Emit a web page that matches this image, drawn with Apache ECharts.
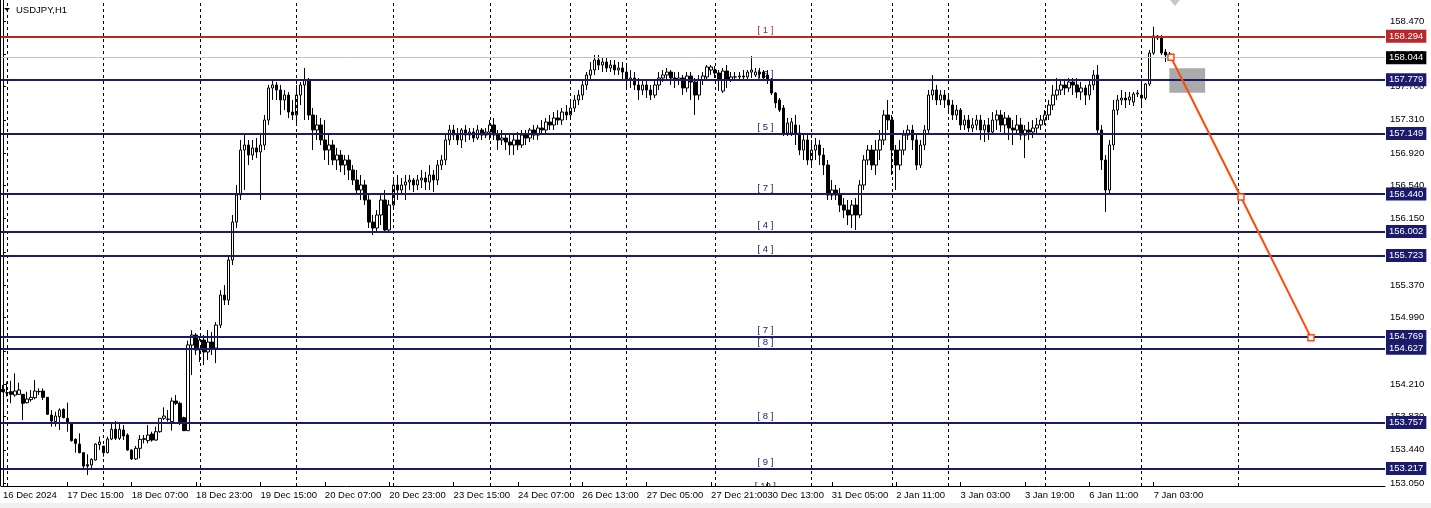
<!DOCTYPE html>
<html><head><meta charset="utf-8">
<script src="https://cdn.jsdelivr.net/npm/echarts@6/dist/echarts.min.js"></script>
<style>html,body{margin:0;padding:0;background:#fff;overflow:hidden}#c{width:1431px;height:508px}</style>
</head><body><div id="c"></div>
<script>
// ---- data (H1 bars, index 0 = 16 Dec 23:00) ----
const open=[154.149,154.110,154.121,154.082,154.090,154.090,153.992,154.028,154.051,154.121,154.129,154.055,153.848,153.770,153.828,153.914,153.809,153.758,153.562,153.507,153.406,153.265,153.261,153.320,153.500,153.484,153.406,153.566,153.680,153.574,153.672,153.613,153.437,153.332,153.457,153.562,153.547,153.625,153.554,153.652,153.809,153.800,153.770,154.012,153.985,153.816,153.664,
154.668,154.786,154.610,154.727,154.587,154.704,154.633,154.903,155.255,155.196,
155.666,156.111,156.428,156.956,157.015,156.897,156.980,156.933,157.015,157.308,
157.684,157.719,157.660,157.543,157.601,157.402,157.367,157.601,157.719,157.777,
157.367,157.191,157.250,157.074,156.956,157.015,156.839,156.897,156.780,156.839,
156.722,156.604,156.487,156.546,156.370,156.111,156.041,156.194,156.370,156.018,
156.311,156.546,156.487,156.546,156.581,156.604,156.546,156.604,156.628,156.581,
156.663,156.604,156.780,156.839,157.074,157.191,157.132,157.074,157.191,157.132,
157.167,157.097,157.191,157.132,157.167,157.250,157.132,157.074,157.097,157.050,
157.015,157.074,157.015,157.132,157.097,157.191,157.132,157.214,157.191,157.285,
157.250,157.332,157.308,157.402,157.367,157.449,157.543,157.601,157.719,157.836,
157.895,158.012,157.953,157.989,157.918,157.953,157.895,157.918,157.871,157.777,
157.801,157.719,157.660,157.719,157.660,157.601,157.719,157.801,157.836,157.871,
157.801,157.777,157.801,157.684,157.824,157.754,157.601,157.777,157.813,157.895,
157.895,157.860,157.648,157.883,157.777,157.813,157.813,157.824,157.813,157.871,
157.836,157.871,157.871,157.836,157.777,157.625,157.543,157.449,157.156,157.156,
157.250,157.156,156.956,157.074,156.839,156.956,157.015,156.897,156.780,156.428,
156.487,156.428,156.311,156.252,156.194,156.311,156.194,156.546,156.839,156.956,
156.780,156.956,157.074,157.367,157.308,156.956,156.780,156.956,157.132,157.191,
157.074,156.780,157.015,157.191,157.601,157.660,157.543,157.601,157.543,157.484,
157.367,157.425,157.250,157.308,157.214,157.250,157.308,157.191,157.250,157.167,
157.308,157.367,157.250,157.332,157.214,157.191,157.250,157.132,157.191,157.167,
157.214,157.250,157.308,157.367,157.484,157.601,157.660,157.719,157.684,157.754,
157.719,157.637,157.684,157.601,157.719,157.836,157.191,156.839,156.487,157.015,
157.425,157.543,157.566,157.543,157.519,157.613,157.601,157.566,157.731,158.094,
158.294,158.270,158.106,158.082];
const close=[154.121,154.109,154.090,154.129,154.141,153.985,154.035,154.055,154.129,154.125,154.055,153.856,153.777,153.836,153.906,153.816,153.758,153.547,153.515,153.406,153.249,153.249,153.328,153.507,153.531,153.406,153.566,153.680,153.574,153.680,153.601,153.437,153.332,153.457,153.562,153.570,153.613,153.554,153.652,153.809,153.836,153.797,154.012,153.985,153.770,153.664,154.670,
154.786,154.610,154.727,154.587,154.704,154.633,154.903,155.255,155.196,155.666,
156.111,156.428,156.956,157.015,156.897,156.980,156.933,157.015,157.308,157.684,
157.719,157.660,157.543,157.601,157.402,157.367,157.601,157.719,157.777,157.367,
157.191,157.250,157.074,156.956,157.015,156.839,156.897,156.780,156.839,156.722,
156.604,156.487,156.546,156.370,156.111,156.041,156.194,156.370,156.018,156.311,
156.546,156.487,156.546,156.581,156.604,156.546,156.604,156.628,156.581,156.663,
156.604,156.780,156.839,157.074,157.191,157.132,157.074,157.191,157.132,157.167,
157.097,157.191,157.132,157.167,157.250,157.132,157.074,157.097,157.050,157.015,
157.074,157.015,157.132,157.097,157.191,157.132,157.214,157.191,157.285,157.250,
157.332,157.308,157.402,157.367,157.449,157.543,157.601,157.719,157.836,157.895,
158.012,157.953,157.989,157.918,157.953,157.895,157.918,157.871,157.777,157.801,
157.719,157.660,157.719,157.660,157.601,157.719,157.801,157.836,157.871,157.801,
157.777,157.801,157.684,157.824,157.754,157.601,157.777,157.824,157.930,157.930,
157.860,157.777,157.883,157.777,157.813,157.815,157.824,157.813,157.871,157.895,
157.871,157.848,157.801,157.777,157.625,157.508,157.425,157.156,157.273,157.285,
157.156,156.956,157.074,156.839,156.956,157.015,156.897,156.780,156.428,156.487,
156.428,156.311,156.252,156.194,156.311,156.194,156.546,156.839,156.956,156.780,
156.956,157.074,157.367,157.308,156.956,156.780,156.956,157.132,157.191,157.074,
156.780,157.015,157.191,157.601,157.660,157.543,157.601,157.543,157.484,157.367,
157.425,157.250,157.308,157.214,157.250,157.308,157.191,157.250,157.167,157.308,
157.367,157.250,157.332,157.214,157.191,157.250,157.132,157.191,157.167,157.214,
157.250,157.308,157.367,157.484,157.601,157.660,157.719,157.684,157.754,157.719,
157.637,157.684,157.601,157.719,157.836,157.191,156.839,156.487,157.015,157.425,
157.543,157.566,157.543,157.578,157.613,157.625,157.566,157.731,158.094,158.294,
158.270,158.094,158.071,158.044];
const high=[154.200,154.239,154.251,154.337,154.227,154.090,154.121,154.141,154.258,154.161,154.161,154.058,153.906,153.887,153.926,153.926,153.992,153.760,153.574,153.633,153.406,153.386,153.339,153.515,153.594,153.484,153.594,153.750,153.777,153.750,153.730,153.633,153.445,153.484,153.613,153.613,153.730,153.652,153.711,153.812,153.938,153.906,154.051,154.082,154.004,153.828,154.720,
154.844,154.809,154.762,154.786,154.844,154.821,154.938,155.313,155.372,155.724,
156.194,156.546,157.074,157.132,157.074,157.074,157.097,157.132,157.367,157.719,
157.777,157.754,157.719,157.660,157.637,157.543,157.719,157.754,157.918,157.801,
157.449,157.367,157.332,157.308,157.132,157.074,156.980,156.956,156.897,156.897,
156.780,156.722,156.663,156.604,156.428,156.194,156.252,156.428,156.487,156.370,
156.604,156.663,156.628,156.663,156.663,156.628,156.663,156.722,156.698,156.780,
156.722,156.839,156.897,157.132,157.250,157.250,157.214,157.214,157.250,157.214,
157.214,157.250,157.214,157.214,157.308,157.332,157.191,157.191,157.132,157.132,
157.132,157.167,157.191,157.191,157.214,157.250,157.250,157.308,157.332,157.367,
157.402,157.425,157.449,157.484,157.543,157.601,157.660,157.777,157.871,157.989,
158.071,158.071,158.047,158.036,158.012,158.012,157.989,157.989,157.953,157.895,
157.871,157.801,157.777,157.777,157.719,157.777,157.871,157.895,157.918,157.895,
157.871,157.871,157.836,157.871,157.871,157.801,157.836,157.871,157.953,157.953,
157.942,157.895,157.918,157.953,157.871,157.871,157.871,157.895,157.895,158.059,
157.918,157.918,157.895,157.895,157.801,157.637,157.566,157.484,157.332,157.332,
157.367,157.250,157.132,157.132,157.074,157.097,157.074,156.980,156.839,156.604,
156.546,156.510,156.393,156.370,156.370,156.393,156.604,156.897,157.015,157.015,
157.074,157.191,157.425,157.543,157.367,157.015,157.074,157.191,157.250,157.250,
157.132,157.074,157.250,157.660,157.836,157.719,157.660,157.660,157.601,157.543,
157.484,157.449,157.367,157.367,157.332,157.367,157.367,157.308,157.332,157.402,
157.425,157.425,157.402,157.367,157.308,157.367,157.332,157.250,157.285,157.308,
157.332,157.367,157.425,157.543,157.719,157.801,157.777,157.777,157.801,157.801,
157.801,157.754,157.719,157.777,157.895,157.953,157.250,156.897,157.074,157.543,
157.601,157.660,157.637,157.637,157.637,157.660,157.742,157.742,158.130,158.403,
158.305,158.305,158.141,158.106];
const low=[154.114,154.063,153.985,154.063,154.082,153.789,153.985,154.004,154.032,154.082,154.024,153.848,153.711,153.711,153.672,153.809,153.652,153.535,153.406,153.398,153.222,153.144,153.222,153.312,153.437,153.359,153.398,153.554,153.554,153.554,153.554,153.429,153.320,153.320,153.339,153.515,153.515,153.535,153.547,153.640,153.789,153.770,153.664,153.965,153.730,153.664,153.664,
154.316,154.551,154.469,154.434,154.493,154.551,154.457,154.868,155.138,155.138,
155.607,156.041,156.370,156.487,156.780,156.839,156.862,156.370,156.956,157.250,
157.543,157.543,157.367,157.425,157.332,157.308,157.250,157.484,157.308,157.308,
156.956,157.074,157.015,156.839,156.780,156.780,156.722,156.698,156.663,156.604,
156.546,156.428,156.370,156.311,156.041,155.959,155.994,156.076,155.982,155.982,
156.252,156.370,156.428,156.370,156.487,156.463,156.487,156.510,156.487,156.487,
156.463,156.546,156.722,156.780,157.015,157.074,157.015,156.980,157.050,157.074,
157.050,157.074,157.074,157.097,157.074,157.074,156.956,157.015,156.956,156.897,
156.897,156.956,156.980,157.015,157.050,157.074,157.074,157.132,157.132,157.191,
157.191,157.250,157.250,157.308,157.308,157.402,157.484,157.543,157.660,157.777,
157.836,157.895,157.871,157.871,157.871,157.836,157.836,157.777,157.660,157.684,
157.660,157.543,157.601,157.566,157.543,157.566,157.660,157.754,157.777,157.719,
157.684,157.719,157.601,157.637,157.543,157.367,157.543,157.719,157.777,157.836,
157.801,157.648,157.625,157.684,157.754,157.777,157.777,157.777,157.777,157.801,
157.813,157.801,157.777,157.731,157.601,157.449,157.402,157.120,157.120,157.120,
157.015,156.897,156.839,156.780,156.780,156.839,156.780,156.663,156.370,156.370,
156.370,156.229,156.158,156.076,156.041,156.018,156.158,156.487,156.780,156.722,
156.663,156.839,157.015,157.191,156.663,156.487,156.722,156.897,157.074,156.956,
156.722,156.745,156.956,157.132,157.543,157.484,157.484,157.449,157.402,157.308,
157.308,157.191,157.191,157.167,157.167,157.191,157.074,157.050,157.074,157.132,
157.191,157.167,157.132,157.074,157.015,157.132,157.074,156.862,157.074,157.097,
157.132,157.191,157.250,157.308,157.425,157.543,157.601,157.601,157.637,157.601,
157.566,157.543,157.484,157.543,157.660,157.132,156.722,156.229,156.428,156.956,
157.367,157.484,157.449,157.484,157.472,157.578,157.461,157.543,157.707,158.071,
158.247,158.071,157.989,158.012];

const tickIdx=[0,16,32,48,64,80,96,112,128,144,160,176,190,206,222,238,254,270,286];
const tickText=['16 Dec 2024','17 Dec 15:00','18 Dec 07:00','18 Dec 23:00','19 Dec 15:00','20 Dec 07:00','20 Dec 23:00','23 Dec 15:00','24 Dec 07:00','26 Dec 13:00','27 Dec 05:00','27 Dec 21:00','30 Dec 13:00','31 Dec 05:00','2 Jan 11:00','3 Jan 03:00','3 Jan 19:00','6 Jan 11:00','7 Jan 03:00'];
const separatorIdx=[1,25,49,73,97,121,141,155,177,201,221,235,259,283,307];
const yTicks=[153.050,153.440,153.830,154.210,154.600,154.990,155.370,155.760,156.150,156.540,156.920,157.310,157.700,158.080,158.470];

const levelPrices=[158.294,157.779,157.149,156.440,156.002,155.723,154.769,154.627,153.757,153.217];
const bidPrice=158.044;
const tagPrices=[158.294,157.779,157.149,156.440,156.002,155.723,154.769,154.627,153.757,153.217,152.940];
const tagTexts=['[ 1 ]','[ 6 ]','[ 5 ]','[ 7 ]','[ 4 ]','[ 4 ]','[ 7 ]','[ 8 ]','[ 8 ]','[ 9 ]','[ 10 ]'];
const tagIdx=189.5;
const projX=[290.3,307.7,325.1];
const projY=[158.044,156.405,154.755];
const boxX=[289.9,298.8];
const boxY=[157.915,157.629];

// ---- styles ----
const SLOTS=344;
const NAVY='#1b1b6b', RED='#b8282a', ORANGE='#ff4a0a';
const FONT='"Liberation Sans", Arial, sans-serif';
const cats=[];for(let i=0;i<SLOTS;i++)cats.push(String(i));
const ohlc=open.map((o,i)=>[o,close[i],low[i],high[i]]);

function boxLabel(text,bg){
  return {show:true,position:'end',distance:1,formatter:text,color:'#fff',backgroundColor:bg,
    padding:[2,3,1,3],fontSize:9.5,fontFamily:FONT,lineHeight:10};
}
const levelLines=levelPrices.map((p,i)=>{
  const c=i===0?RED:NAVY;
  return {yAxis:p,lineStyle:{color:c,width:2,type:'solid'},label:boxLabel(p.toFixed(3),c)};
});
levelLines.push({yAxis:bidPrice,lineStyle:{color:'#c0c0c0',width:1,type:'solid'},label:boxLabel(bidPrice.toFixed(3),'#000')});

const tagColors=tagPrices.map((p,i)=>i===0?RED:NAVY);

const chart=echarts.init(document.getElementById('c'),null,{renderer:'canvas'});
chart.setOption({
  animation:false,
  backgroundColor:'#fff',
  grid:{left:-2,right:46,top:0,bottom:22,containLabel:false},
  title:{text:'USDJPY,H1',left:16,top:5,padding:0,textStyle:{fontSize:9.5,fontWeight:'normal',color:'#000',fontFamily:FONT}},
  graphic:[
    {type:'polygon',shape:{points:[[4,8],[10,8],[7,11]]},style:{fill:'#000'}},
    {type:'line',shape:{x1:0.5,y1:0,x2:0.5,y2:486},style:{stroke:'#000',lineWidth:1}},
    {type:'polygon',shape:{points:[[1170,0],[1180,0],[1175,6]]},style:{fill:'#c8c8c8'}},
    {type:'rect',shape:{x:0,y:503,width:1431,height:5},style:{fill:'#f0f0f0'}}
  ],
  xAxis:[
    {type:'category',data:cats,boundaryGap:true,
     axisLine:{lineStyle:{color:'#000',width:1}},
     axisTick:{show:true,inside:true,length:4,alignWithLabel:true,interval:(i)=>tickIdx.indexOf(i)>=0,lineStyle:{color:'#000'}},
     axisLabel:{interval:(i)=>tickIdx.indexOf(i)>=0,formatter:(v,i)=>{const k=tickIdx.indexOf(i);return k>=0?tickText[k]:'';},
       align:'left',color:'#000',fontSize:9.5,fontFamily:FONT,margin:4},
     splitLine:{show:false}},
    {type:'value',min:-0.5,max:SLOTS-0.5,show:false}
  ],
  yAxis:{type:'value',position:'right',min:153.015,max:158.716,scale:true,
    axisLine:{show:true,lineStyle:{color:'#000',width:1}},
    axisTick:{show:true,length:3,customValues:yTicks,lineStyle:{color:'#000'}},
    axisLabel:{customValues:yTicks,formatter:(v)=>v.toFixed(3),color:'#000',fontSize:9.5,fontFamily:FONT,margin:5},
    splitLine:{show:false}},
  series:[
    {type:'line',xAxisIndex:1,data:[],silent:true,z:1,
     markArea:{silent:true,itemStyle:{color:'#aaaaaa',opacity:1},data:[[{coord:[boxX[0],boxY[0]]},{coord:[boxX[1],boxY[1]]}]]},
     markLine:{silent:true,symbol:['none','none'],animation:false,label:{show:false},
       lineStyle:{color:'#000',width:1,type:[3,3]},
       data:separatorIdx.map(i=>({xAxis:i}))}},
    {type:'custom',xAxisIndex:1,clip:true,silent:true,z:2,
     data:tagPrices.map((p,i)=>[tagIdx,p]),
     renderItem:(params,api)=>{const pt=api.coord([api.value(0),api.value(1)]);
       return {type:'text',x:pt[0],y:pt[1]-1,style:{text:tagTexts[params.dataIndex],fill:tagColors[params.dataIndex],
         font:'9.5px '+FONT,align:'center',verticalAlign:'bottom'}};}},
    {type:'line',xAxisIndex:1,data:[],silent:true,z:3,
     markLine:{silent:true,symbol:['none','none'],animation:false,data:levelLines}},
    {type:'candlestick',xAxisIndex:0,data:ohlc,barWidth:3,z:4,silent:true,
     itemStyle:{color:'#ffffff',color0:'#000000',borderColor:'#000000',borderColor0:'#000000',borderWidth:1}},
    {type:'line',xAxisIndex:1,z:5,silent:true,data:projX.map((x,i)=>[x,projY[i]]),
     lineStyle:{color:ORANGE,width:2},symbol:'rect',symbolSize:6,showSymbol:true,
     itemStyle:{color:'#fff',borderColor:ORANGE,borderWidth:1.5}}
  ]
});
</script></body></html>
